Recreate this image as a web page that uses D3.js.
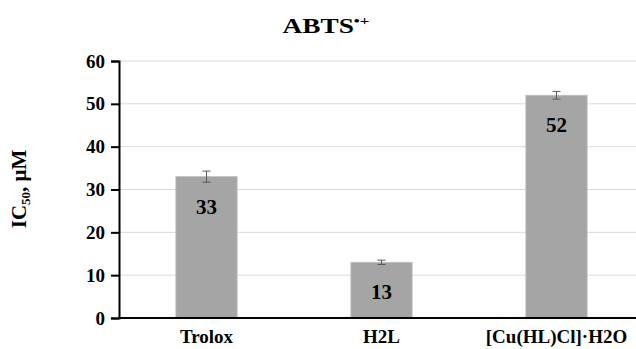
<!DOCTYPE html>
<html><head><meta charset="utf-8">
<script src="https://cdn.jsdelivr.net/npm/d3@7"></script>
<style>body{margin:0;background:#fff}svg{display:block}text{font-family:"Liberation Serif","Times New Roman",serif;font-weight:bold;fill:#000}</style>
</head><body>
<script>
const categories = ["Trolox", "H2L", "[Cu(HL)Cl]·H2O"];
const values = [33, 13, 52];
const errors = [1.3, 0.5, 0.9];
const yTicks = [0, 10, 20, 30, 40, 50, 60];

(function () {
const W = 636, H = 349;
const svg = d3.select("body").append("svg").attr("width", W).attr("height", H);
const mLeft = 119, mRight = 644, mTop = 61, mBottom = 318;

const x = d3.scaleBand().domain(categories).range([mLeft, mRight]).paddingInner(0.65).paddingOuter(0.325);
const y = d3.scaleLinear().domain([0, 60]).range([mBottom, mTop]);

// gridlines
svg.append("g").selectAll("line").data(yTicks.filter(d => d > 0)).join("line")
  .attr("x1", mLeft).attr("x2", W).attr("y1", d => y(d)).attr("y2", d => y(d))
  .attr("stroke", "#d9d9d9").attr("stroke-width", 1);

// bars
svg.append("g").selectAll("rect").data(values).join("rect")
  .attr("x", (d, i) => x(categories[i])).attr("width", x.bandwidth())
  .attr("y", d => y(d)).attr("height", d => y(0) - y(d))
  .attr("fill", "#a5a5a5").attr("stroke", "#bdbdbd").attr("stroke-width", 0.8);

// error bars
const eg = svg.append("g").attr("stroke", "#595959").attr("stroke-width", 1);
values.forEach((v, i) => {
  const cx = x(categories[i]) + x.bandwidth() / 2;
  eg.append("line").attr("x1", cx).attr("x2", cx).attr("y1", y(v + errors[i])).attr("y2", y(v - errors[i]));
  eg.append("line").attr("x1", cx - 4).attr("x2", cx + 4).attr("y1", y(v + errors[i])).attr("y2", y(v + errors[i]));
  eg.append("line").attr("x1", cx - 4).attr("x2", cx + 4).attr("y1", y(v - errors[i])).attr("y2", y(v - errors[i]));
});

// value labels
svg.append("g").selectAll("text").data(values).join("text")
  .attr("x", (d, i) => x(categories[i]) + x.bandwidth() / 2)
  .attr("y", d => y(d) + 37)
  .attr("text-anchor", "middle").attr("font-size", 21).text(d => d);

// y axis
const ya = svg.append("g").attr("transform", `translate(${mLeft},0)`)
  .call(d3.axisLeft(y).tickValues(yTicks).tickSize(8).tickPadding(6));
ya.select(".domain").attr("stroke", "#000").attr("stroke-width", 2);
ya.selectAll(".tick line").attr("stroke", "#000").attr("stroke-width", 2);
ya.selectAll(".tick text").attr("font-size", 19).attr("font-family", "Liberation Serif").attr("font-weight", "bold").attr("fill", "#000");

// x axis line
svg.append("line").attr("x1", mLeft).attr("x2", W).attr("y1", mBottom).attr("y2", mBottom)
  .attr("stroke", "#000").attr("stroke-width", 2);

// x labels
svg.append("g").selectAll("text").data(categories).join("text")
  .attr("x", d => x(d) + x.bandwidth() / 2).attr("y", 343)
  .attr("text-anchor", "middle").attr("font-size", 19).text(d => d);

// title
const t = svg.append("text").attr("transform", "translate(326,33) scale(1.3,1)").attr("text-anchor", "middle").attr("font-size", 21);
t.append("tspan").text("ABTS");
t.append("tspan").attr("font-size", 13).attr("dy", -8).text("•+");

// y axis title
const yt = svg.append("text").attr("transform", "translate(26,189) rotate(-90)").attr("text-anchor", "middle").attr("font-size", 21);
yt.append("tspan").text("IC");
yt.append("tspan").attr("font-size", 13).attr("dy", 4).text("50");
yt.append("tspan").attr("dy", -4).text(", μM");
})();
</script>
</body></html>
